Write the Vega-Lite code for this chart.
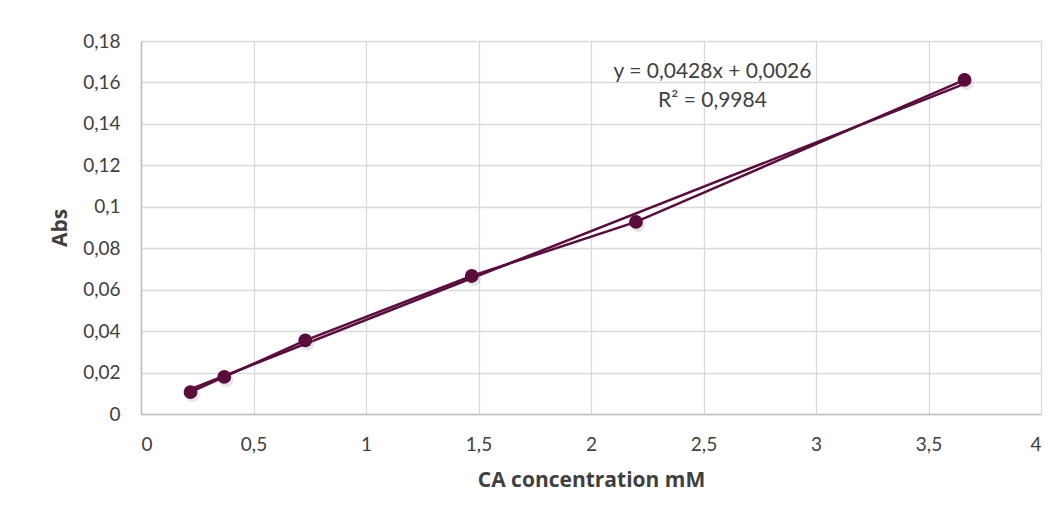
{
  "$schema": "https://vega.github.io/schema/vega-lite/v6.json",
  "width": 900,
  "height": 373,
  "autosize": {"type": "none"},
  "padding": {"left": 141, "top": 41, "right": 21, "bottom": 107},
  "background": "white",
  "config": {
    "font": "Lato",
    "view": {"stroke": null},
    "axis": {
      "labelFont": "Lato",
      "labelFontSize": 19,
      "labelColor": "#404040",
      "titleFont": "Open Sans",
      "titleFontSize": 21,
      "titleFontWeight": "bold",
      "titleColor": "#404040",
      "gridColor": "#d9d9d9",
      "gridWidth": 1.3,
      "domainColor": "#bfbfbf",
      "domainWidth": 1.5,
      "ticks": false
    }
  },
  "datasets": {
    "pts": [
      {"conc": 0.22, "abs": 0.0106},
      {"conc": 0.37, "abs": 0.0179},
      {"conc": 0.73, "abs": 0.0355},
      {"conc": 1.47, "abs": 0.0666},
      {"conc": 2.20, "abs": 0.0927},
      {"conc": 3.66, "abs": 0.1612}
    ],
    "trend": [
      {"conc": 0.22, "abs": 0.0120},
      {"conc": 3.66, "abs": 0.1593}
    ]
  },
  "layer": [
    {
      "data": {"name": "trend"},
      "mark": {"type": "line", "color": "#5a0c3c", "strokeWidth": 2.5},
      "encoding": {
        "x": {
          "field": "conc", "type": "quantitative",
          "scale": {"domain": [0, 4], "nice": false},
          "axis": {
            "title": "CA concentration mM",
            "values": [0, 0.5, 1, 1.5, 2, 2.5, 3, 3.5, 4],
            "labelExpr": "replace(format(datum.value, '~g'), '.', ',')",
            "labelPadding": 21,
            "titlePadding": 15,
            "grid": true
          }
        },
        "y": {
          "field": "abs", "type": "quantitative",
          "scale": {"domain": [0, 0.18], "nice": false},
          "axis": {
            "title": "Abs",
            "values": [0, 0.02, 0.04, 0.06, 0.08, 0.1, 0.12, 0.14, 0.16, 0.18],
            "labelExpr": "replace(format(datum.value, '~g'), '.', ',')",
            "labelPadding": 21,
            "titlePadding": 12,
            "grid": true
          }
        }
      }
    },
    {
      "data": {"name": "pts"},
      "mark": {"type": "point", "filled": true, "shape": "circle", "size": 200, "color": "#999999", "opacity": 0.25, "xOffset": 2, "yOffset": 3},
      "encoding": {
        "x": {"field": "conc", "type": "quantitative"},
        "y": {"field": "abs", "type": "quantitative"}
      }
    },
    {
      "data": {"name": "pts"},
      "mark": {"type": "line", "color": "#5a0c3c", "strokeWidth": 2.5, "point": {"filled": true, "size": 190, "color": "#5a0c3c", "opacity": 1}},
      "encoding": {
        "x": {"field": "conc", "type": "quantitative"},
        "y": {"field": "abs", "type": "quantitative"}
      }
    },
    {
      "data": {"values": [{}]},
      "mark": {"type": "text", "fontSize": 21, "font": "Lato", "color": "#404040", "align": "center", "baseline": "alphabetic", "lineBreak": "\n", "lineHeight": 29},
      "encoding": {
        "x": {"datum": 2.54},
        "y": {"datum": 0.1620},
        "text": {"value": ["y = 0,0428x + 0,0026", "R² = 0,9984"]}
      }
    }
  ]
}
